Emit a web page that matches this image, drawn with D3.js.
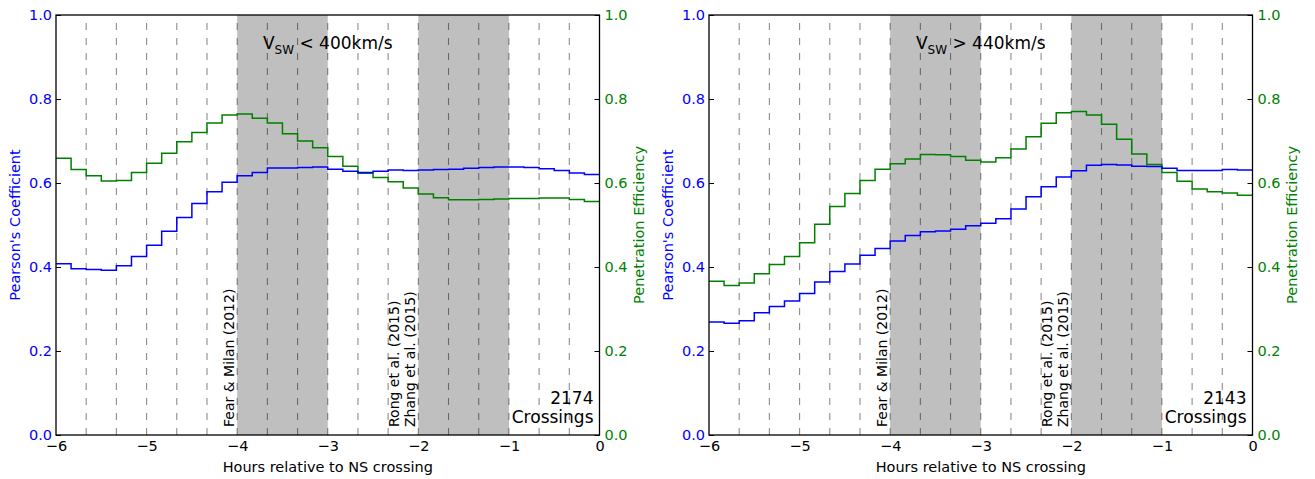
<!DOCTYPE html>
<html>
<head>
<meta charset="utf-8">
<script src="https://cdn.jsdelivr.net/npm/d3@7"></script>
<style>
  html, body { margin: 0; padding: 0; background: #fff; }
  svg { display: block; font-family: "DejaVu Sans", sans-serif; }
</style>
</head>
<body>
<svg id="chart" width="1315" height="479"></svg>
<script>
// ---- data ----
// start of each 10-minute bin, minutes relative to NS crossing
const binStartMinutes = [-360,-350,-340,-330,-320,-310,-300,-290,-280,-270,-260,-250,
  -240,-230,-220,-210,-200,-190,-180,-170,-160,-150,-140,-130,
  -120,-110,-100,-90,-80,-70,-60,-50,-40,-30,-20,-10];

const slowPearson = [0.408,0.396,0.394,0.392,0.403,0.425,0.452,0.485,0.518,0.551,0.579,0.602,
  0.617,0.625,0.636,0.636,0.637,0.638,0.633,0.628,0.625,0.628,0.631,0.630,
  0.631,0.632,0.633,0.635,0.637,0.638,0.638,0.637,0.634,0.630,0.624,0.620];
const slowPenetration = [0.659,0.632,0.617,0.605,0.606,0.625,0.647,0.671,0.698,0.720,0.743,0.762,
  0.764,0.754,0.743,0.717,0.700,0.684,0.663,0.640,0.623,0.613,0.603,0.588,
  0.574,0.565,0.560,0.560,0.561,0.562,0.563,0.563,0.564,0.564,0.561,0.556];

const fastPearson = [0.269,0.266,0.272,0.291,0.306,0.319,0.337,0.364,0.389,0.407,0.428,0.444,
  0.462,0.475,0.484,0.486,0.490,0.498,0.504,0.515,0.538,0.567,0.591,0.614,
  0.629,0.642,0.644,0.643,0.640,0.639,0.635,0.630,0.630,0.630,0.632,0.631];
const fastPenetration = [0.366,0.356,0.362,0.384,0.406,0.425,0.458,0.502,0.544,0.575,0.606,0.633,
  0.646,0.657,0.668,0.667,0.663,0.654,0.650,0.660,0.681,0.710,0.742,0.767,
  0.770,0.762,0.740,0.704,0.669,0.644,0.625,0.604,0.586,0.579,0.576,0.571];

const xTickHours = [-6,-5,-4,-3,-2,-1,0];
const yTickValues = [0.0,0.2,0.4,0.6,0.8,1.0];
const guideHours = [-17/3,-16/3,-5,-14/3,-13/3,-4,-11/3,-10/3,-3,-8/3,-7/3,-2,-5/3,-4/3,-1,-2/3,-1/3];
const shadedIntervals = [[-4,-3],[-2,-1]];

const panels = [
  { titleSub: "SW", titleRest: " < 400km/s", crossings: "2174", pearson: slowPearson, penetration: slowPenetration },
  { titleSub: "SW", titleRest: " > 440km/s", crossings: "2143", pearson: fastPearson, penetration: fastPenetration }
];

// ---- layout ----
const svg = d3.select("#chart");
const panelLeft = [56, 709];
const plotW = 543.5, plotTop = 15, plotBottom = 435;
const BLUE = "#0000ff", GREEN = "#008000";
const FS = 14.5;

panels.forEach((p, pi) => {
  const L = panelLeft[pi], R = L + plotW;
  const x = d3.scaleLinear().domain([-6, 0]).range([L, R]);
  const y = d3.scaleLinear().domain([0, 1]).range([plotBottom, plotTop]);
  const y2 = d3.scaleLinear().domain([0, 1]).range([plotBottom, plotTop]);
  const g = svg.append("g");

  // shaded intervals
  g.selectAll("rect.shade").data(shadedIntervals).join("rect")
    .attr("x", d => x(d[0])).attr("width", d => x(d[1]) - x(d[0]))
    .attr("y", plotTop).attr("height", plotBottom - plotTop)
    .attr("fill", "#bfbfbf");

  // dashed guides
  g.selectAll("line.guide").data(guideHours).join("line")
    .attr("x1", d => x(d)).attr("x2", d => x(d))
    .attr("y1", plotBottom).attr("y2", plotTop)
    .attr("stroke", "#000").attr("stroke-opacity", 0.45)
    .attr("stroke-width", 1.1).attr("stroke-dasharray", "7,8");

  const hrs = binStartMinutes.map(m => m / 60);
  const stepPts = (vals) => vals.map((v, i) => [hrs[i], v]).concat([[0, vals[vals.length - 1]]]);

  const lineP = d3.line().x(d => x(d[0])).y(d => y(d[1])).curve(d3.curveStepAfter);
  const lineE = d3.line().x(d => x(d[0])).y(d => y2(d[1])).curve(d3.curveStepAfter);

  g.append("path").attr("d", lineE(stepPts(p.penetration)))
    .attr("fill", "none").attr("stroke", GREEN).attr("stroke-width", 1.5);
  g.append("path").attr("d", lineP(stepPts(p.pearson)))
    .attr("fill", "none").attr("stroke", BLUE).attr("stroke-width", 1.5);

  // annotations
  const ann = g.append("g").attr("font-size", 14).attr("fill", "#000");
  ann.append("text").attr("transform", `translate(${x(-4) - 3.5},427) rotate(-90)`)
    .attr("text-anchor", "start").text("Fear & Milan (2012)");
  ann.append("text").attr("transform", `translate(${x(-2) - 19.5},427) rotate(-90)`)
    .attr("text-anchor", "start").text("Rong et al. (2015)");
  ann.append("text").attr("transform", `translate(${x(-2) - 3.5},427) rotate(-90)`)
    .attr("text-anchor", "start").text("Zhang et al. (2015)");

  // crossings
  g.append("text").attr("x", R - 6).attr("y", 404).attr("text-anchor", "end")
    .attr("font-size", 17).text(p.crossings);
  g.append("text").attr("x", R - 6).attr("y", 422.5).attr("text-anchor", "end")
    .attr("font-size", 17).text("Crossings");

  // title
  const t = g.append("text").attr("x", x(-3)).attr("y", 49).attr("text-anchor", "middle")
    .attr("font-size", 17);
  t.append("tspan").text("V");
  t.append("tspan").attr("font-size", 12).attr("dy", 5).text(p.titleSub);
  t.append("tspan").attr("dy", -5).text(p.titleRest);

  // axes
  const ax = g.append("g").attr("transform", `translate(${L},0)`)
    .call(d3.axisLeft(y).tickValues(yTickValues).tickFormat(d3.format(".1f")).tickSizeInner(-5).tickSizeOuter(0).tickPadding(4));
  ax.selectAll("text").attr("fill", BLUE).attr("font-size", FS).attr("font-family", "DejaVu Sans");
  const ax2 = g.append("g").attr("transform", `translate(${R},0)`)
    .call(d3.axisRight(y2).tickValues(yTickValues).tickFormat(d3.format(".1f")).tickSizeInner(-5).tickSizeOuter(0).tickPadding(5));
  ax2.selectAll("text").attr("fill", GREEN).attr("font-size", FS).attr("font-family", "DejaVu Sans");
  const axb = g.append("g").attr("transform", `translate(0,${plotBottom})`)
    .call(d3.axisBottom(x).tickValues(xTickHours).tickFormat(d3.format("d")).tickSize(0).tickPadding(6));
  axb.selectAll("text").attr("fill", "#000").attr("font-size", FS).attr("font-family", "DejaVu Sans");
  [ax, ax2, axb].forEach(a => { a.select(".domain").remove(); a.selectAll("line").attr("stroke", "#000").attr("stroke-width", 1); });

  // frame
  g.append("rect").attr("x", L).attr("y", plotTop).attr("width", R - L).attr("height", plotBottom - plotTop)
    .attr("fill", "none").attr("stroke", "#000").attr("stroke-width", 1.3);

  // axis labels
  g.append("text").attr("transform", `translate(${L - 41},225) rotate(-90)`)
    .attr("text-anchor", "middle").attr("dominant-baseline", "central")
    .attr("fill", BLUE).attr("font-size", FS).text("Pearson's Coefficient");
  g.append("text").attr("transform", `translate(${R + 39},225) rotate(-90)`)
    .attr("text-anchor", "middle").attr("dominant-baseline", "central")
    .attr("fill", GREEN).attr("font-size", FS).text("Penetration Efficiency");
  g.append("text").attr("x", x(-3)).attr("y", 472).attr("text-anchor", "middle")
    .attr("font-size", FS).attr("fill", "#000").text("Hours relative to NS crossing");
});
</script>
</body>
</html>
